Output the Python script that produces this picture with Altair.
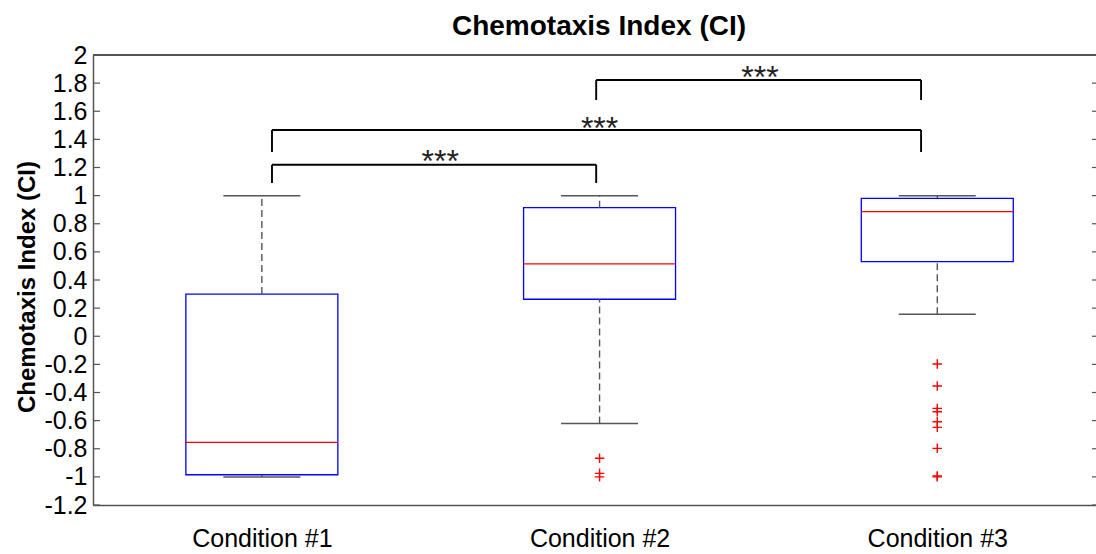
import altair as alt
import pandas as pd

# Box-plot summary per condition
conditions = ["Condition #1", "Condition #2", "Condition #3"]
positions = [1, 2, 3]
q1 = [-0.985, 0.263, 0.530]
median = [-0.755, 0.514, 0.886]
q3 = [0.300, 0.914, 0.981]
whisker_lo = [-1.0, -0.62, 0.156]
whisker_hi = [1.0, 1.0, 1.0]

# Outliers (condition position, value)
outlier_pos = [2, 2, 2, 3, 3, 3, 3, 3, 3, 3, 3, 3]
outlier_val = [-0.868, -0.975, -1.0,
               -0.197, -0.354, -0.513, -0.537, -0.608, -0.648, -0.797, -0.994, -1.0]

# Significance brackets: left x, right x, bar height, leg end
bracket_x1 = [1.03, 1.03, 1.99]
bracket_x2 = [1.99, 2.952, 2.952]
bracket_top = [1.22, 1.467, 1.822]
bracket_leg = [1.09, 1.31, 1.68]
star_x = [1.528, 2.0, 2.475]
star_y = [1.168, 1.403, 1.766]
star_text = ["***", "***", "***"]

y_ticks = [-1.2, -1.0, -0.8, -0.6, -0.4, -0.2, 0.0, 0.2, 0.4, 0.6, 0.8,
           1.0, 1.2, 1.4, 1.6, 1.8, 2.0]

W, H = 1003, 450
FONT = "Liberation Sans"
BOX_HALF = 0.225
CAP_HALF = 0.114

boxes = pd.DataFrame({
    "pos": positions, "q1": q1, "median": median, "q3": q3,
    "lo": whisker_lo, "hi": whisker_hi,
})
boxes["left"] = boxes["pos"] - BOX_HALF
boxes["right"] = boxes["pos"] + BOX_HALF
boxes["cap_l"] = boxes["pos"] - CAP_HALF
boxes["cap_r"] = boxes["pos"] + CAP_HALF

outliers = pd.DataFrame({"pos": outlier_pos, "val": outlier_val})

seg_rows = []
for a, b, top, leg in zip(bracket_x1, bracket_x2, bracket_top, bracket_leg):
    seg_rows.append({"x": a, "x2": b, "y": top, "y2": top})
    seg_rows.append({"x": a, "x2": a, "y": top, "y2": leg})
    seg_rows.append({"x": b, "x2": b, "y": top, "y2": leg})
segments = pd.DataFrame(seg_rows)
stars = pd.DataFrame({"x": star_x, "y": star_y, "t": star_text})
ticks = pd.DataFrame({"v": y_ticks})

label_list = ",".join(f"'{c}'" for c in conditions)
x_scale = alt.Scale(domain=[0.5, 3.47], nice=False, zero=False)
y_scale = alt.Scale(domain=[-1.2, 2.0], nice=False, zero=False)

x_axis = alt.Axis(
    values=positions, labelExpr=f"[{label_list}][datum.value - 1]",
    title=None, ticks=False, grid=False, labelFont=FONT, labelFontSize=25,
    labelColor="black", labelPadding=21, domainColor="#555555", domainWidth=1.5,
)
y_axis = alt.Axis(
    values=y_ticks, labelExpr="replace(format(datum.value, '.1~f'), '\u2212', '-')",
    title=None, ticks=False, grid=False, labelFont=FONT, labelFontSize=25,
    labelColor="black", labelPadding=6, domainColor="#555555", domainWidth=1.5,
    labelOverlap=False, labelFlush=False, labelBaseline="middle",
)

base_box = alt.Chart(boxes)

box_rect = base_box.mark_rect(fill=None, stroke="#0000ff", strokeWidth=1.3).encode(
    x=alt.X("left:Q", scale=x_scale, axis=x_axis),
    x2="right:Q",
    y=alt.Y("q1:Q", scale=y_scale, axis=y_axis),
    y2="q3:Q",
)
median_rule = base_box.mark_rule(color="#ff0000", strokeWidth=1.3).encode(
    x=alt.X("left:Q", scale=x_scale, axis=x_axis), x2="right:Q",
    y=alt.Y("median:Q", scale=y_scale, axis=y_axis),
)
whisk_up = base_box.mark_rule(color="#555555", strokeWidth=1.4, strokeDash=[7, 4]).encode(
    x=alt.X("pos:Q", scale=x_scale, axis=x_axis),
    y=alt.Y("q3:Q", scale=y_scale, axis=y_axis), y2="hi:Q",
)
whisk_dn = base_box.mark_rule(color="#555555", strokeWidth=1.4, strokeDash=[7, 4]).encode(
    x=alt.X("pos:Q", scale=x_scale, axis=x_axis),
    y=alt.Y("lo:Q", scale=y_scale, axis=y_axis), y2="q1:Q",
)
cap_up = base_box.mark_rule(color="#555555", strokeWidth=1.5).encode(
    x=alt.X("cap_l:Q", scale=x_scale, axis=x_axis), x2="cap_r:Q",
    y=alt.Y("hi:Q", scale=y_scale, axis=y_axis),
)
cap_dn = base_box.mark_rule(color="#555555", strokeWidth=1.5).encode(
    x=alt.X("cap_l:Q", scale=x_scale, axis=x_axis), x2="cap_r:Q",
    y=alt.Y("lo:Q", scale=y_scale, axis=y_axis),
)

outlier_pts = alt.Chart(outliers).mark_point(
    shape="M-1,0L1,0M0,-1L0,1", size=90, filled=False,
    stroke="#ff0000", strokeWidth=1.4, opacity=1,
).encode(
    x=alt.X("pos:Q", scale=x_scale, axis=x_axis),
    y=alt.Y("val:Q", scale=y_scale, axis=y_axis),
)

bracket_lines = alt.Chart(segments).mark_rule(color="black", strokeWidth=1.9).encode(
    x=alt.X("x:Q", scale=x_scale, axis=x_axis), x2="x2:Q",
    y=alt.Y("y:Q", scale=y_scale, axis=y_axis), y2="y2:Q",
)
star_labels = alt.Chart(stars).mark_text(
    font=FONT, fontSize=32, baseline="alphabetic", align="center", color="#222222",
).encode(
    x=alt.X("x:Q", scale=x_scale, axis=x_axis),
    y=alt.Y("y:Q", scale=y_scale, axis=y_axis), text="t:N",
)

# Inward tick marks on the left and right frame edges
left_ticks = alt.Chart(ticks).mark_rule(color="#555555", strokeWidth=1.2).encode(
    x=alt.value(0), x2=alt.value(7), y=alt.Y("v:Q", scale=y_scale, axis=y_axis),
)
right_ticks = alt.Chart(ticks).mark_rule(color="#555555", strokeWidth=1.2).encode(
    x=alt.value(W - 4), x2=alt.value(W), y=alt.Y("v:Q", scale=y_scale, axis=y_axis),
)
top_border = alt.Chart(ticks).mark_rule(color="#555555", strokeWidth=1.5).encode(
    x=alt.value(0), x2=alt.value(W), y=alt.value(0),
)

title_text = alt.Chart(pd.DataFrame({"t": ["Chemotaxis Index (CI)"]})).mark_text(
    font=FONT, fontSize=28, fontWeight="bold", baseline="alphabetic", align="center",
    color="black",
).encode(x=alt.value(506), y=alt.value(-20), text="t:N")

ytitle_text = alt.Chart(pd.DataFrame({"t": ["Chemotaxis Index (CI)"]})).mark_text(
    font=FONT, fontSize=24, fontWeight="bold", baseline="alphabetic", align="center",
    angle=270, color="black",
).encode(x=alt.value(-58), y=alt.value(232), text="t:N")

chart = alt.layer(
    box_rect, whisk_up, whisk_dn, cap_up, cap_dn, median_rule, outlier_pts,
    bracket_lines, star_labels, left_ticks, right_ticks, top_border,
    title_text, ytitle_text,
).properties(
    width=W, height=H,
    autosize=alt.AutoSizeParams(type="none"),
    padding={"left": 93, "top": 55, "right": 0, "bottom": 49},
    background="white",
).configure_view(stroke=None).configure_axis(labelOverlap=False)

chart.save("out.html", embed_options={"renderer": "svg", "actions": False})
